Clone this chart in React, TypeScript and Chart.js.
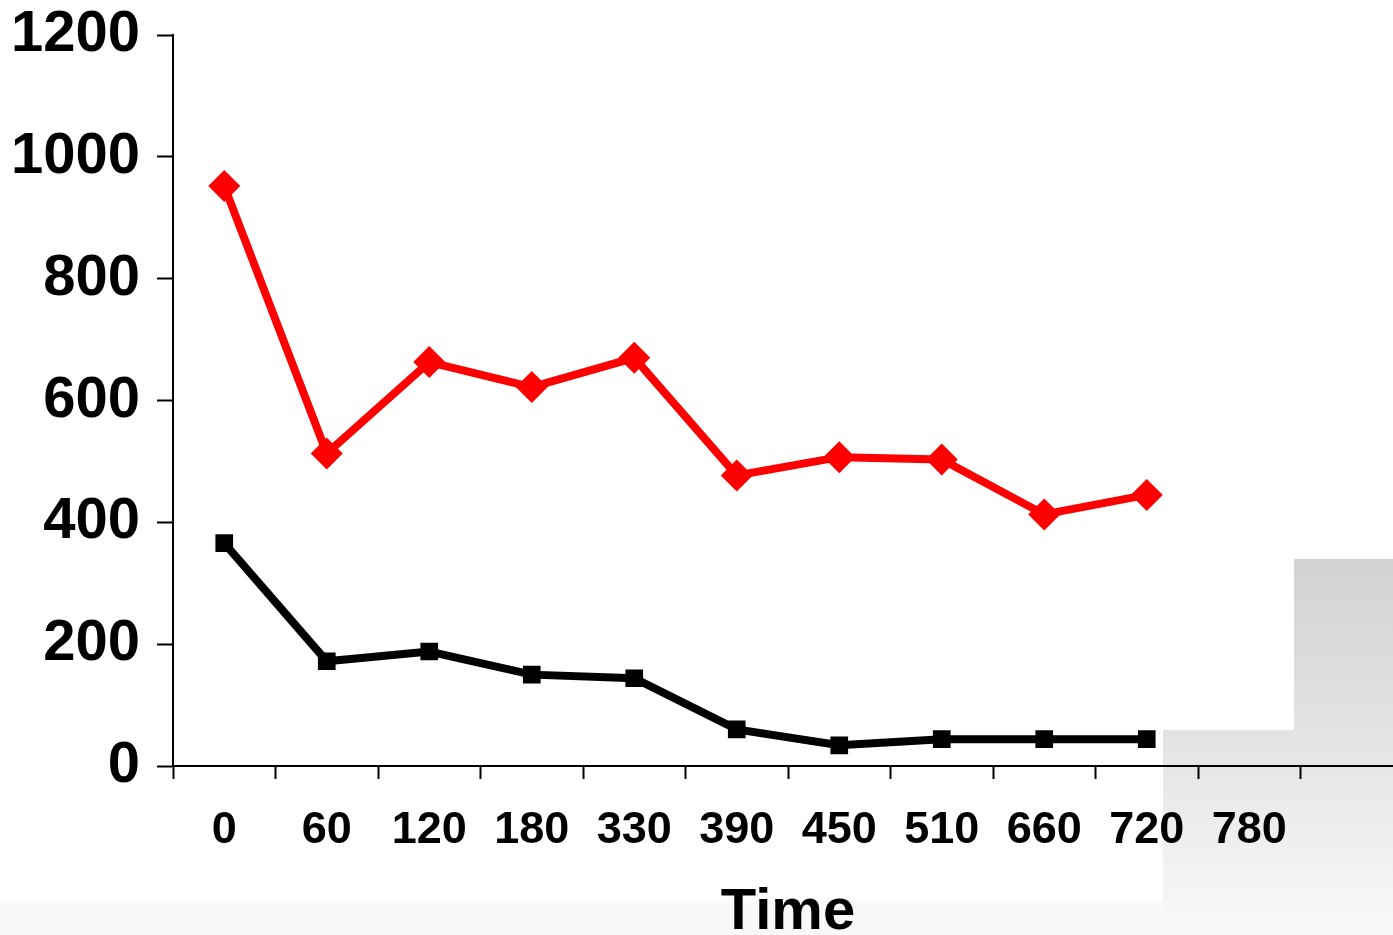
import React, { useEffect, useRef } from "react";
import { Chart, registerables } from "chart.js";

Chart.register(...registerables);

const categories = ["0", "60", "120", "180", "330", "390", "450", "510", "660", "720", "780", ""];
const redSeries = [952, 513, 663, 622, 670, 477, 507, 503, 413, 445];
const blackSeries = [366, 172, 188, 150, 144, 60, 34, 44, 44, 44];
const yTicks = [0, 200, 400, 600, 800, 1000, 1200];

const FONT = "'Liberation Sans', Arial, Helvetica, sans-serif";

const backgroundPlugin = {
  id: "bgShading",
  beforeDraw(chart: any) {
    const ctx = chart.ctx as CanvasRenderingContext2D;
    ctx.save();
    ctx.fillStyle = "#ffffff";
    ctx.fillRect(0, 0, chart.width, chart.height);
    ctx.fillStyle = "#f9f9f9";
    ctx.fillRect(0, 900, 1163, 35);
    let g = ctx.createLinearGradient(0, 730, 0, 935);
    g.addColorStop(0, "#e3e3e3");
    g.addColorStop(1, "#f9f9f9");
    ctx.fillStyle = g;
    ctx.fillRect(1163, 730, chart.width - 1163, 205);
    g = ctx.createLinearGradient(0, 559, 0, 730);
    g.addColorStop(0, "#d2d2d2");
    g.addColorStop(1, "#e3e3e3");
    ctx.fillStyle = g;
    ctx.fillRect(1294, 559, chart.width - 1294, 171);
    ctx.restore();
  },
};

export default function App() {
  const ref = useRef<HTMLCanvasElement>(null);
  useEffect(() => {
    if (!ref.current) return;
    const chart = new Chart(ref.current, {
      type: "line",
      data: {
        labels: categories,
        datasets: [
          {
            data: redSeries,
            borderColor: "#ff0000",
            backgroundColor: "#ff0000",
            borderWidth: 8,
            pointStyle: "rectRot",
            pointRadius: 16,
            pointBorderWidth: 0,
            tension: 0,
            fill: false,
          },
          {
            data: blackSeries,
            borderColor: "#000000",
            backgroundColor: "#000000",
            borderWidth: 8,
            pointStyle: "rect",
            pointRadius: 12.5,
            pointBorderWidth: 0,
            tension: 0,
            fill: false,
          },
        ],
      },
      options: {
        responsive: false,
        animation: false,
        events: [],
        layout: { padding: { top: 35, left: 0, right: 0.5, bottom: 0 } },
        plugins: {
          legend: { display: false },
          tooltip: { enabled: false },
        },
        scales: {
          x: {
            type: "category",
            offset: true,
            grid: {
              offset: true,
              drawOnChartArea: false,
              drawTicks: true,
              tickLength: 13,
              tickColor: "#000000",
              tickWidth: 2,
              color: "#000000",
            },
            border: { display: true, color: "#000000", width: 2 },
            ticks: {
              color: "#000000",
              font: { family: FONT, size: 45, weight: "bold", lineHeight: 1.2 },
              padding: 25,
              maxRotation: 0,
              autoSkip: false,
            },
            title: {
              display: true,
              text: "Time",
              color: "#000000",
              font: { family: FONT, size: 58, weight: "bold", lineHeight: 0.76 },
              padding: 0,
            },
            afterFit(scale: any) {
              scale.height = 169;
            },
          },
          y: {
            min: 0,
            max: 1200,
            afterBuildTicks(scale: any) {
              scale.ticks = yTicks.map((v) => ({ value: v }));
            },
            grid: {
              drawOnChartArea: false,
              drawTicks: true,
              tickLength: 16,
              tickColor: "#000000",
              tickWidth: 2,
              color: "#000000",
            },
            border: { display: true, color: "#000000", width: 2 },
            ticks: {
              color: "#000000",
              font: { family: FONT, size: 58, weight: "bold", lineHeight: 0.5 },
              padding: 17,
              callback: (v: any) => String(v),
            },
            afterFit(scale: any) {
              scale.width = 173;
            },
          },
        },
      },
      plugins: [backgroundPlugin],
    });
    return () => chart.destroy();
  }, []);

  return (
    <div
      style={{
        position: "absolute",
        left: 0,
        top: 0,
        width: 1393,
        height: 935,
        overflow: "hidden",
        background: "#ffffff",
      }}
    >
      <canvas ref={ref} width={1419} height={935} style={{ display: "block" }} />
    </div>
  );
}
